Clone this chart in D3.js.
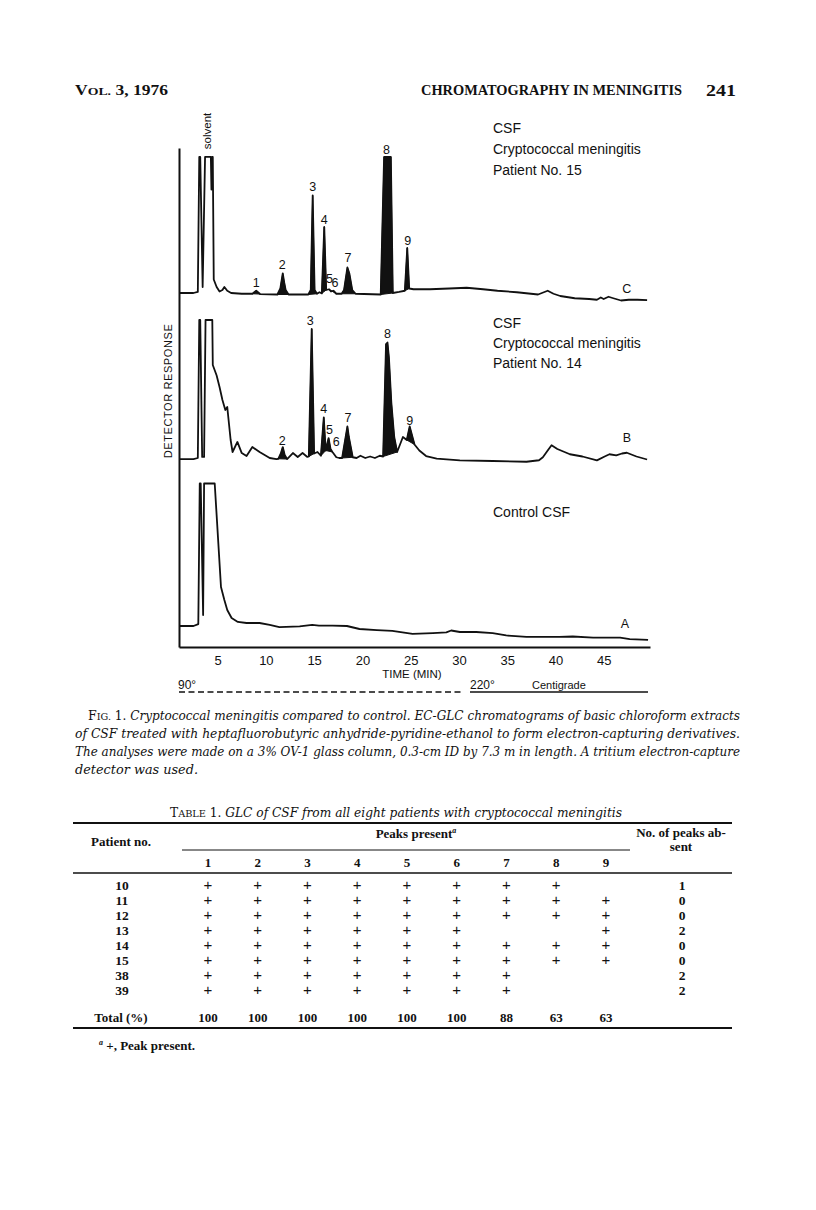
<!DOCTYPE html>
<html><head><meta charset="utf-8">
<script src="https://cdn.jsdelivr.net/npm/d3@7/dist/d3.min.js"></script>
<style>
body{margin:0;background:#fff;}
svg{display:block;}
</style></head>
<body>
<svg id="page" width="816" height="1210"></svg>
<script>
// ---------------- DATA ----------------
const timeTicks = [5, 10, 15, 20, 25, 30, 35, 40, 45];

// chromatogram C: CSF, cryptococcal meningitis, patient 15  [time (min), response]
const traceC = [[1,8],[2.5,8],[2.95,8.7],[3.1,98.7],[3.2,98.7],[3.45,12],[3.7,98.7],[4.3,98.7],[4.36,77],[4.42,98.7],[4.5,98.7],
  [4.6,17],[4.9,12],[5.2,9],[5.5,10],[5.7,12],[6.0,9.5],[6.4,8],[7.5,7.5],[8.6,7.5],[9.0,9.5],[9.4,7.3],[11.2,7],[11.5,11],
  [11.75,21],[11.9,15],[12.05,10],[12.35,7],[14.4,7],[14.65,10],[14.85,73],[15.05,10],[15.3,7.5],[15.55,8.5],[15.8,7.8],
  [16.05,52],[16.25,10],[16.55,10.5],[16.75,9],[17.0,9.5],[17.3,7.5],[17.85,7.5],[18.1,10],[18.45,25],[18.65,21],[18.95,10],
  [19.3,7.5],[21.9,7],[22.25,98.7],[22.95,98.7],[23.15,8],[23.8,8.7],[24.4,9.5],[24.65,38],[24.85,11],[25.3,10.5],[27,10.5],
  [29,11],[30.8,11.5],[32.5,10.5],[34,9.5],[36,8.5],[38.2,7],[38.8,8.5],[39.2,9.5],[39.8,7.5],[40.5,6],[42,4.5],[43.5,4],
  [44.3,3.5],[44.7,5],[45.0,4],[45.5,5.5],[46.0,4.5],[46.8,3],[47.6,3.5],[48.5,3.5],[49.5,3.3]];
const filledC = [[8.6,9.4],[11.2,12.35],[14.4,15.3],[15.8,16.25],[16.55,17.3],[17.85,19.3],[21.9,23.15],[24.4,24.85]];
const labelsC = [["1",9.0,14.7],["2",11.7,27.3],["3",14.85,79.3],["4",16.05,57.3],["5",16.6,18],["6",17.15,15.3],
  ["7",18.5,32],["8",22.5,104],["9",24.7,42.7],["C",47.4,11.3]];
const titleC = ["CSF", "Cryptococcal meningitis", "Patient No. 15"];

// chromatogram B: CSF, cryptococcal meningitis, patient 14
const traceB = [[1,7.3],[2.5,7.3],[2.95,8],[3.1,100],[3.2,100],[3.4,8.7],[3.6,8.7],[3.75,100],[4.45,100],[4.5,70],[4.9,63],
  [5.2,55.3],[5.5,46.7],[5.8,40],[6.0,42],[6.35,20],[6.55,12],[7.05,18.7],[7.5,11.3],[8.0,9.3],[8.6,15.3],[9.35,12],[10.4,8],
  [11.1,7.3],[11.3,7.5],[11.55,11],[11.75,15.3],[11.95,10],[12.2,7.3],[12.8,11.3],[13.3,8.7],[13.8,11.3],[14.3,8.7],[14.45,9],
  [14.75,94],[15.0,11],[15.35,12],[15.7,9.5],[16.0,35],[16.2,13],[16.5,21.3],[16.7,14],[16.9,12],[17.3,8.5],[17.6,8],[17.9,8],
  [18.45,29],[18.6,22],[19.0,8.5],[19.4,8],[19.8,9.5],[20.3,8],[20.8,9],[21.3,8],[21.8,9.5],[22.15,9],[22.45,84],[22.6,85],
  [22.75,75],[23.0,45],[23.3,22],[23.6,12],[24.2,22],[24.6,20],[24.9,29],[25.4,17],[25.9,13],[26.6,9.3],[27.7,7.6],[30.1,6.4],
  [33.5,6],[37,5.5],[38.3,6.5],[38.7,8.5],[39.2,13],[39.6,16.5],[40.2,14],[41.5,10.5],[42.8,9],[44.3,6.4],[45.1,9],[45.6,10.5],
  [46.3,9.7],[46.9,11],[47.4,11.5],[48.4,9],[49.5,7]];
const filledB = [[11.3,12.2],[14.45,15.0],[15.7,16.2],[16.2,16.9],[17.9,19.0],[22.15,23.6],[24.6,25.4]];
const labelsB = [["2",11.7,20],["3",14.6,100],["4",16.0,40.7],["5",16.6,26.7],["6",17.3,18.7],["7",18.5,35.3],
  ["8",22.6,90.7],["9",24.9,33.3],["B",47.4,22]];
const titleB = ["CSF", "Cryptococcal meningitis", "Patient No. 14"];

// chromatogram A: control CSF
const traceA = [[1,8],[2.5,8],[3.0,9.3],[3.15,103],[3.25,103],[3.5,15.3],[3.6,103],[4.7,103],[5.35,34],[5.7,25.3],[6.0,18.7],
  [6.45,13.3],[7.1,10.7],[8,10],[9.35,10],[10.4,8.7],[11.4,7.3],[13.5,7.7],[14.8,8.7],[15.5,8.3],[16.9,8.3],[18.4,8],[19.7,6],
  [21.5,5.3],[23.1,4.7],[25.2,2.7],[27.3,3.3],[28.7,3.7],[29.2,5],[30.1,4],[31.8,4],[33.5,3.3],[34.9,1.7],[37,0.7],[40.4,0.7],
  [41.8,1],[43.9,0.3],[46.7,0.3],[47.7,-0.7],[49.6,-1.3]];
const filledA = [];
const labelsA = [["A",47.2,10]];
const titleA = ["Control CSF"];

// Table 1
const patients = ["10", "11", "12", "13", "14", "15", "38", "39"];
const peakNumbers = [1, 2, 3, 4, 5, 6, 7, 8, 9];
const present10 = [1,1,1,1,1,1,1,1,0];
const present11 = [1,1,1,1,1,1,1,1,1];
const present12 = [1,1,1,1,1,1,1,1,1];
const present13 = [1,1,1,1,1,1,0,0,1];
const present14 = [1,1,1,1,1,1,1,1,1];
const present15 = [1,1,1,1,1,1,1,1,1];
const present38 = [1,1,1,1,1,1,1,0,0];
const present39 = [1,1,1,1,1,1,1,0,0];
const peaksAbsent = [1, 0, 0, 2, 0, 0, 2, 2];
const totalPercent = [100, 100, 100, 100, 100, 100, 88, 63, 63];

// ---------------- DRAW ----------------
const svg = d3.select("#page");
const SANS = "'Liberation Sans', Arial, sans-serif";
const SERIF = "'Liberation Serif', 'Times New Roman', serif";
const DSERIF = "'DejaVu Serif', 'Liberation Serif', serif";
const INK = "#111";

function smallCaps(textSel, big, small, bigSize, smallSize) {
  textSel.append("tspan").attr("font-size", bigSize).text(big);
  textSel.append("tspan").attr("font-size", smallSize).text(small);
}

// running head
const h1 = svg.append("text").attr("x", 75).attr("y", 95).attr("font-family", SERIF)
  .attr("font-weight", "bold").attr("fill", INK).attr("textLength", 93).attr("lengthAdjust", "spacingAndGlyphs");
smallCaps(h1, "V", "OL.", 14, 11);
h1.append("tspan").attr("font-size", 14).text(" 3, 1976");
svg.append("text").attr("x", 421).attr("y", 95).attr("font-family", SERIF).attr("font-weight", "bold")
  .attr("font-size", 14).attr("fill", INK).attr("textLength", 261).attr("lengthAdjust", "spacingAndGlyphs")
  .text("CHROMATOGRAPHY IN MENINGITIS");
svg.append("text").attr("x", 706).attr("y", 96).attr("font-family", SERIF)
  .attr("font-weight", "bold").attr("font-size", 16).attr("fill", INK)
  .attr("textLength", 30).attr("lengthAdjust", "spacingAndGlyphs").text("241");

// scales
const x = d3.scaleLinear().domain([1, 49.8]).range([179, 650]);
const yFull = d3.scaleLinear().domain([0, 1]).range([647, 148]);

const panels = [
  {trace: traceC, filled: filledC, labels: labelsC, title: titleC, y: d3.scaleLinear().domain([0,100]).range([305,155]), titleY: [133, 154, 175]},
  {trace: traceB, filled: filledB, labels: labelsB, title: titleB, y: d3.scaleLinear().domain([0,100]).range([470,320]), titleY: [328, 348, 368]},
  {trace: traceA, filled: filledA, labels: labelsA, title: titleA, y: d3.scaleLinear().domain([0,100]).range([638,488]), titleY: [517]}
];

panels.forEach(p => {
  const line = d3.line().x(d => x(d[0])).y(d => p.y(d[1]));
  const g = svg.append("g");
  p.filled.forEach(r => {
    const pts = p.trace.filter(d => d[0] >= r[0] - 1e-9 && d[0] <= r[1] + 1e-9);
    g.append("path").attr("d", line(pts) + "Z").attr("fill", INK).attr("stroke", INK).attr("stroke-width", 1);
  });
  g.append("path").attr("d", line(p.trace)).attr("fill", "none").attr("stroke", INK)
    .attr("stroke-width", 1.8).attr("stroke-linejoin", "round");
  p.labels.forEach(l => {
    g.append("text").attr("x", x(l[1])).attr("y", p.y(l[2])).attr("dy", "0.36em")
      .attr("text-anchor", "middle").attr("font-family", SANS).attr("font-size", 12.5).attr("fill", INK).text(l[0]);
  });
  p.title.forEach((t, i) => {
    g.append("text").attr("x", 493).attr("y", p.titleY[i]).attr("font-family", SANS)
      .attr("font-size", 14).attr("fill", INK).text(t);
  });
});

// "solvent" label
svg.append("text").attr("transform", "translate(211,131) rotate(-90)").attr("text-anchor", "middle")
  .attr("font-family", SANS).attr("font-size", 11.5).attr("fill", INK).text("solvent");

// axes
const xAxis = d3.axisBottom(x).tickValues(timeTicks).tickSizeInner(0).tickSizeOuter(0).tickPadding(9);
const gx = svg.append("g").attr("transform", "translate(0,647)").call(xAxis);
gx.select(".domain").attr("stroke", INK).attr("stroke-width", 2);
gx.selectAll("text").attr("font-family", SANS).attr("font-size", 13).attr("fill", INK);
const yAxis = d3.axisLeft(yFull).tickValues([]).tickSizeOuter(0);
const gy = svg.append("g").attr("transform", "translate(179,0)").call(yAxis);
gy.select(".domain").attr("stroke", INK).attr("stroke-width", 2);

svg.append("text").attr("x", 412).attr("y", 678).attr("text-anchor", "middle").attr("font-family", SANS)
  .attr("font-size", 11.5).attr("fill", INK).text("TIME (MIN)");
svg.append("text").attr("transform", "translate(172,391) rotate(-90)").attr("text-anchor", "middle")
  .attr("font-family", SANS).attr("font-size", 11).attr("letter-spacing", 0.6).attr("fill", INK).text("DETECTOR RESPONSE");

// temperature programme
svg.append("text").attr("x", 178).attr("y", 689).attr("font-family", SANS).attr("font-size", 12).attr("fill", INK).text("90°");
svg.append("text").attr("x", 470).attr("y", 689).attr("font-family", SANS).attr("font-size", 12).attr("fill", INK).text("220°");
svg.append("text").attr("x", 532).attr("y", 689).attr("font-family", SANS).attr("font-size", 11).attr("fill", INK).text("Centigrade");
svg.append("line").attr("x1", 179).attr("x2", 463).attr("y1", 692).attr("y2", 692).attr("stroke", INK)
  .attr("stroke-width", 1.6).attr("stroke-dasharray", "6,3.5");
svg.append("line").attr("x1", 470).attr("x2", 648).attr("y1", 692).attr("y2", 692).attr("stroke", INK).attr("stroke-width", 1.6);

// caption
const capLines = [
  {x: 88, y: 720, len: 652, head: true, text: "Cryptococcal meningitis compared to control. EC-GLC chromatograms of basic chloroform extracts"},
  {x: 75, y: 738, len: 665, text: "of CSF treated with heptafluorobutyric anhydride-pyridine-ethanol to form electron-capturing derivatives."},
  {x: 75, y: 756, len: 665, text: "The analyses were made on a 3% OV-1 glass column, 0.3-cm ID by 7.3 m in length. A tritium electron-capture"},
  {x: 75, y: 774, len: 123, text: "detector was used."}
];
capLines.forEach(c => {
  const t = svg.append("text").attr("x", c.x).attr("y", c.y).attr("font-family", DSERIF)
    .attr("font-size", 12.5).attr("fill", INK);
  if (c.len) t.attr("textLength", c.len).attr("lengthAdjust", "spacingAndGlyphs");
  if (c.head) {
    smallCaps(t, "F", "IG.", 13, 10);
    t.append("tspan").text(" 1. ");
  }
  t.append("tspan").attr("font-style", "italic").text(c.text);
});

// table
const tTitle = svg.append("text").attr("x", 170).attr("y", 817).attr("font-family", DSERIF)
  .attr("font-size", 12.5).attr("fill", INK).attr("textLength", 452).attr("lengthAdjust", "spacingAndGlyphs");
smallCaps(tTitle, "T", "ABLE", 12.5, 10);
tTitle.append("tspan").text(" 1. ");
tTitle.append("tspan").attr("font-style", "italic").text("GLC of CSF from all eight patients with cryptococcal meningitis");

const col = d3.scalePoint().domain(peakNumbers).range([208, 606]);
const rowY = d3.scalePoint().domain(patients).range([885, 990]);
const TB = {"font-family": SERIF, "font-weight": "bold", "font-size": 13, "fill": INK};
function tt(xp, yp, txt, anchor, extra) {
  const e = svg.append("text").attr("x", xp).attr("y", yp).attr("text-anchor", anchor || "middle");
  Object.entries(Object.assign({}, TB, extra || {})).forEach(([k, v]) => e.attr(k, v));
  e.text(txt);
  return e;
}
function rule(y1, xa, xb, w) {
  svg.append("line").attr("x1", xa).attr("x2", xb).attr("y1", y1).attr("y2", y1).attr("stroke", INK).attr("stroke-width", w);
}
rule(823, 73, 732, 1.8);
const pp = tt(416, 838, "Peaks present");
pp.append("tspan").attr("font-size", 8).attr("font-style", "italic").attr("dy", -5).text("a");
tt(121, 846, "Patient no.");
rule(850, 182, 630, 1);
tt(681, 837, "No. of peaks ab-");
tt(681, 851, "sent");
peakNumbers.forEach(n => tt(col(n), 867, String(n)));
rule(873, 73, 732, 1.3);

const presence = [present10, present11, present12, present13, present14, present15, present38, present39];
patients.forEach((p, i) => {
  const yy = rowY(p) + 4.5;
  tt(122, yy, p, "middle", {"font-size": 13.5});
  presence[i].forEach((v, j) => {
    if (v) tt(col(peakNumbers[j]), yy, "+", "middle", {"font-weight": "normal", "font-size": 15, "font-family": SANS});
  });
  tt(682, yy, String(peaksAbsent[i]), "middle", {"font-size": 13.5});
});
tt(121, 1022, "Total (%)");
totalPercent.forEach((v, j) => tt(col(peakNumbers[j]), 1022, String(v)));
rule(1028, 73, 732, 1.8);
const fn = svg.append("text").attr("x", 99).attr("y", 1050).attr("font-family", SERIF).attr("font-weight", "bold")
  .attr("font-size", 13).attr("fill", INK);
fn.append("tspan").attr("font-size", 8).attr("font-style", "italic").attr("dy", -5).text("a");
fn.append("tspan").attr("dy", 5).text(" +, Peak present.");
</script>
</body></html>
